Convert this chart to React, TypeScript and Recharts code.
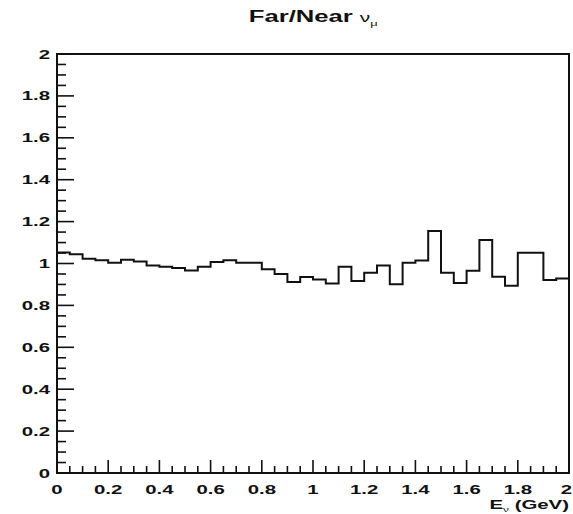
import { LineChart, Line, XAxis, YAxis, ReferenceArea } from 'recharts';

// lower edge of each 0.05 GeV energy bin
const binLow = [
  0, 0.05, 0.1, 0.15, 0.2, 0.25, 0.3, 0.35, 0.4, 0.45,
  0.5, 0.55, 0.6, 0.65, 0.7, 0.75, 0.8, 0.85, 0.9, 0.95,
  1.0, 1.05, 1.1, 1.15, 1.2, 1.25, 1.3, 1.35, 1.4, 1.45,
  1.5, 1.55, 1.6, 1.65, 1.7, 1.75, 1.8, 1.85, 1.9, 1.95,
];
const binEnd = 2;

// Far/Near ratio per bin
const ratio = [
  1.052, 1.044, 1.023, 1.015, 1.004, 1.018, 1.009, 0.991, 0.985, 0.979,
  0.966, 0.985, 1.007, 1.015, 1.004, 1.004, 0.972, 0.95, 0.912, 0.935,
  0.924, 0.905, 0.984, 0.917, 0.956, 0.99, 0.901, 1.003, 1.014, 1.155,
  0.956, 0.907, 0.965, 1.112, 0.937, 0.894, 1.051, 1.051, 0.921, 0.929,
];

const xMajor = [0, 0.2, 0.4, 0.6, 0.8, 1, 1.2, 1.4, 1.6, 1.8, 2];
const xLabels = ['0', '0.2', '0.4', '0.6', '0.8', '1', '1.2', '1.4', '1.6', '1.8', '2'];
const yMajor = [0, 0.2, 0.4, 0.6, 0.8, 1, 1.2, 1.4, 1.6, 1.8, 2];
const yLabels = ['0', '0.2', '0.4', '0.6', '0.8', '1', '1.2', '1.4', '1.6', '1.8', '2'];

// minor divisions every 0.05 on both axes
const allTicks = Array.from({ length: 41 }, (_, i) => +(i * 0.05).toFixed(2));

const data = [
  ...binLow.map((e, i) => ({ e, ratio: ratio[i] })),
  { e: binEnd, ratio: ratio[ratio.length - 1] },
];

const FONT = '"Liberation Sans", Arial, Helvetica, sans-serif';
const STRETCH = 1.7;

const majorIndex = (majors: number[], v: number) =>
  majors.findIndex((m) => Math.abs(m - v) < 1e-6);

const XTick = (props: any) => {
  const { x, y, payload } = props;
  const idx = majorIndex(xMajor, payload.value);
  const len = idx >= 0 ? 13 : 7;
  // keep the last label inside the page
  const lx = Math.min(x, 566.5);
  return (
    <g>
      <line x1={x} x2={x} y1={y} y2={y - len} stroke="#111" strokeWidth={1.6} />
      {idx >= 0 && (
        <text
          transform={`translate(${lx},${y + 21}) scale(${STRETCH},1)`}
          textAnchor="middle"
          fontFamily={FONT}
          fontWeight="bold"
          fontSize={12}
          fill="#111"
        >
          {xLabels[idx]}
        </text>
      )}
    </g>
  );
};

const YTick = (props: any) => {
  const { x, y, payload } = props;
  const idx = majorIndex(yMajor, payload.value);
  const len = idx >= 0 ? 17 : 9;
  return (
    <g>
      <line x1={x} x2={x + len} y1={y} y2={y} stroke="#111" strokeWidth={1.6} />
      {idx >= 0 && (
        <text
          transform={`translate(${x - 7},${y + 4.5}) scale(${STRETCH},1)`}
          textAnchor="end"
          fontFamily={FONT}
          fontWeight="bold"
          fontSize={12}
          fill="#111"
        >
          {yLabels[idx]}
        </text>
      )}
    </g>
  );
};

const XTitle = (props: any) => {
  const vb = props.viewBox || {};
  const right = (vb.x || 0) + (vb.width || 0);
  const top = vb.y || 0;
  return (
    <text
      transform={`translate(${right},${top + 36}) scale(${STRETCH},1)`}
      textAnchor="end"
      fontFamily={FONT}
      fontWeight="bold"
      fontSize={12}
      fill="#111"
    >
      <tspan>E</tspan>
      <tspan fontSize={7} fontWeight="normal" dy={3}>ν</tspan>
      <tspan dy={-3}> (GeV)</tspan>
    </text>
  );
};

export default function App() {
  return (
    <div style={{ position: 'absolute', left: 0, top: 0, width: 573, height: 514, background: '#fff' }}>
      <div
        style={{
          position: 'absolute',
          left: 0,
          top: 9,
          width: 626,
          textAlign: 'center',
          fontFamily: FONT,
          fontSize: 16,
          lineHeight: '16px',
          color: '#111',
          whiteSpace: 'nowrap',
        }}
      >
        <span style={{ display: 'inline-block', transform: 'scaleX(1.6)' }}>
          <b>Far/Near </b>
          <span style={{ fontSize: 13 }}>ν</span>
          <span style={{ fontSize: 8, position: 'relative', top: 4 }}>μ</span>
        </span>
      </div>
      <LineChart
        width={573}
        height={514}
        data={data}
        margin={{ top: 54, right: 4, bottom: 0, left: 0 }}
      >
        <XAxis
          dataKey="e"
          type="number"
          domain={[0, 2]}
          ticks={allTicks}
          interval={0}
          tickSize={0}
          tickMargin={0}
          axisLine={false}
          tickLine={false}
          height={41}
          tick={<XTick />}
          label={{ content: <XTitle /> }}
          allowDataOverflow
        />
        <YAxis
          type="number"
          domain={[0, 2]}
          ticks={allTicks}
          interval={0}
          tickSize={0}
          tickMargin={0}
          axisLine={false}
          tickLine={false}
          width={57}
          tick={<YTick />}
          allowDataOverflow
        />
        <ReferenceArea
          x1={0}
          x2={2}
          y1={0}
          y2={2}
          fill="none"
          fillOpacity={0}
          stroke="#111"
          strokeWidth={2}
          ifOverflow="visible"
        />
        <Line
          type="stepAfter"
          dataKey="ratio"
          stroke="#111"
          strokeWidth={2}
          dot={false}
          activeDot={false}
          isAnimationActive={false}
        />
      </LineChart>
    </div>
  );
}
